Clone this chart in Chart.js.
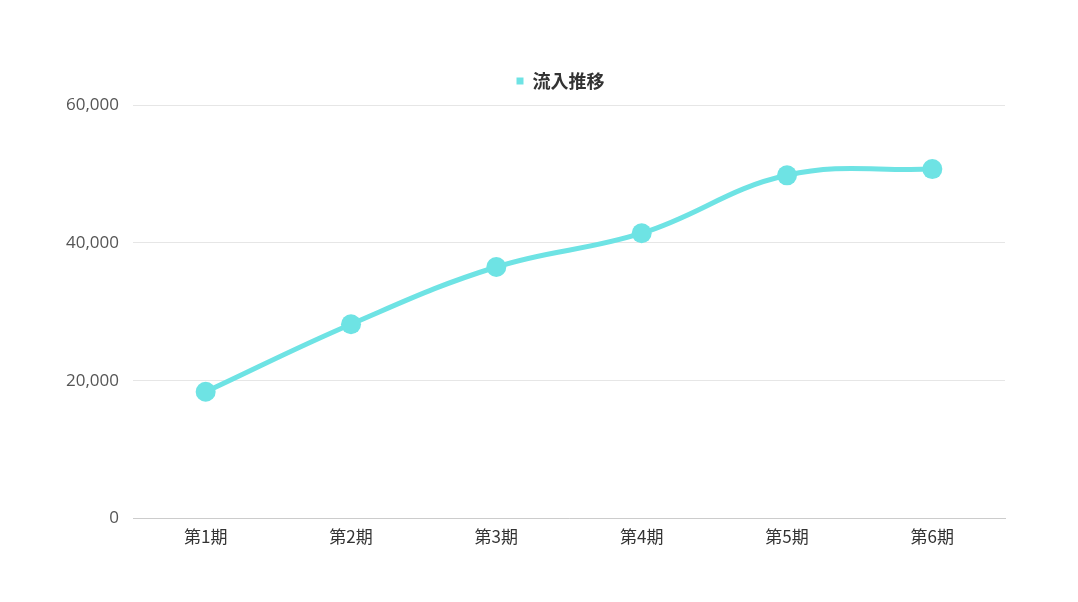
<!DOCTYPE html>
<html>
<head>
<meta charset="utf-8">
<script src="https://cdn.jsdelivr.net/npm/chart.js@4"></script>
<style>
  html, body { margin: 0; padding: 0; background: #fff; }
  #wrap { width: 1078px; height: 602px; }
</style>
</head>
<body>
<div id="wrap"><canvas id="chart"></canvas></div>
<script>
// データ
const labels = ['第1期', '第2期', '第3期', '第4期', '第5期', '第6期'];
const inflow = [18400, 28200, 36500, 41400, 49800, 50700];
const yTicks = [0, 20000, 40000, 60000];

const teal = '#6ee3e4';

// 凡例の位置調整（少し右へ、下に余白）
const legendTweak = {
    id: 'legendTweak',
    afterInit(chart) {
        const lg = chart.legend;
        const fit = lg.fit;
        lg.fit = function () {
            fit.call(this);
            this.height += 5;
        };
    },
    afterLayout(chart) {
        chart.legend.left += 64;
    }
};

const ctx = document.getElementById('chart').getContext('2d');
new Chart(ctx, {
    type: 'line',
    data: {
        labels: labels,
        datasets: [{
            label: '流入推移',
            data: inflow,
            borderColor: teal,
            backgroundColor: teal,
            borderWidth: 5,
            pointRadius: 10,
            pointHoverRadius: 10,
            pointBorderWidth: 0,
            tension: 0.4,
            fill: false
        }]
    },
    options: {
        responsive: true,
        maintainAspectRatio: false,
        animation: false,
        layout: { padding: { left: 52, right: 73, top: 46, bottom: 55 } },
        plugins: {
            legend: {
                labels: {
                    boxWidth: 7,
                    boxHeight: 7,
                    padding: 26,
                    color: '#333',
                    font: { family: '"Noto Sans CJK JP", "Noto Sans"', size: 18, weight: '600' },
                    // 凡例の四角は枠線なし
                    generateLabels: function (chart) {
                        const items = Chart.defaults.plugins.legend.labels.generateLabels(chart);
                        items.forEach(it => { it.lineWidth = 0; it.strokeStyle = teal; });
                        return items;
                    }
                }
            },
            tooltip: { enabled: false }
        },
        scales: {
            x: {
                offset: true,
                grid: { display: false },
                border: { color: '#cccccc' },
                ticks: {
                    color: '#333',
                    padding: 0,
                    font: { family: '"Noto Sans CJK JP", "Noto Sans"', size: 17 }
                }
            },
            y: {
                min: 0,
                max: 60000,
                afterBuildTicks: function (axis) {
                    axis.ticks = yTicks.map(v => ({ value: v }));
                },
                grid: { color: '#e6e6e6', drawTicks: false },
                border: { display: false },
                ticks: {
                    color: '#555',
                    padding: 14,
                    font: { family: '"Open Sans"', size: 17 },
                    callback: v => v.toLocaleString('en-US')
                }
            }
        }
    },
    plugins: [legendTweak]
});
</script>
</body>
</html>
